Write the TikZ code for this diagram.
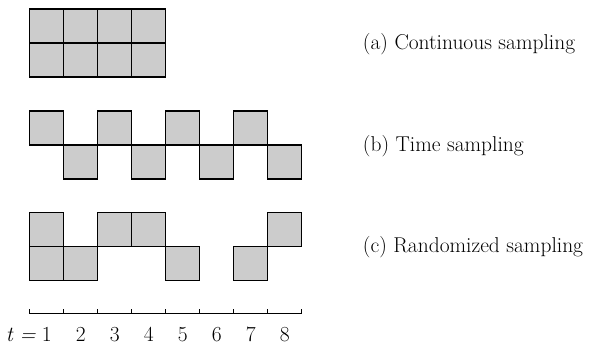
\documentclass[tikz,border=0pt]{standalone}
\usepackage{fontspec}
\begin{document}
\begin{tikzpicture}[x=0.75pt,y=-0.75pt,
  cell/.style={draw=black,fill=black!20,line width=0.9pt},
  axisline/.style={line width=0.9pt},
  lbl/.style={font=\fontsize{16.1}{19}\selectfont,inner sep=0pt},
]
\useasboundingbox (0,0) rectangle (589,350);
\def\xo{29.7}
\def\w{34}
% (a) continuous sampling: two full rows of four cells
\foreach \c in {0,...,3}{
  \draw[cell] (\xo+\c*\w,9) rectangle ++(\w,\w);
  \draw[cell] (\xo+\c*\w,43) rectangle ++(\w,\w);
}
% (b) time sampling: alternating upper and lower cells
\foreach \c in {0,2,4,6}{\draw[cell] (\xo+\c*\w,111) rectangle ++(\w,\w);}
\foreach \c in {1,3,5,7}{\draw[cell] (\xo+\c*\w,145) rectangle ++(\w,\w);}
% (c) randomized sampling
\foreach \c in {0,2,3,7}{\draw[cell] (\xo+\c*\w,212.7) rectangle ++(\w,\w);}
\foreach \c in {0,1,4,6}{\draw[cell] (\xo+\c*\w,246.7) rectangle ++(\w,\w);}
% time axis with ticks
\coordinate (axl) at (\xo,313.5);
\coordinate (axr) at (\xo+8*\w,313.5);
\draw[axisline] (axl) -- (axr);
\foreach \c in {0,...,8}{\draw[axisline] (\xo+\c*\w,313.5) -- ++(0,-5);}
\node[lbl,anchor=base] (t1) at (\xo+0.5*\w,341.5)
  {\llap{\itshape t\/\hspace{0.278em}=\hspace{0.278em}}1};
\foreach \c in {2,...,8}{
  \node[lbl,anchor=base] (t\c) at (\xo+\c*\w-0.5*\w,341.5) {\c};
}
% captions
\node[lbl,anchor=base west] (capa) at (362.7,49) {(a) Continuous sampling};
\node[lbl,anchor=base west] (capb) at (362.7,151) {(b) Time sampling};
\node[lbl,anchor=base west] (capc) at (362.7,252.5) {(c) Randomized sampling};
\end{tikzpicture}
\end{document}
